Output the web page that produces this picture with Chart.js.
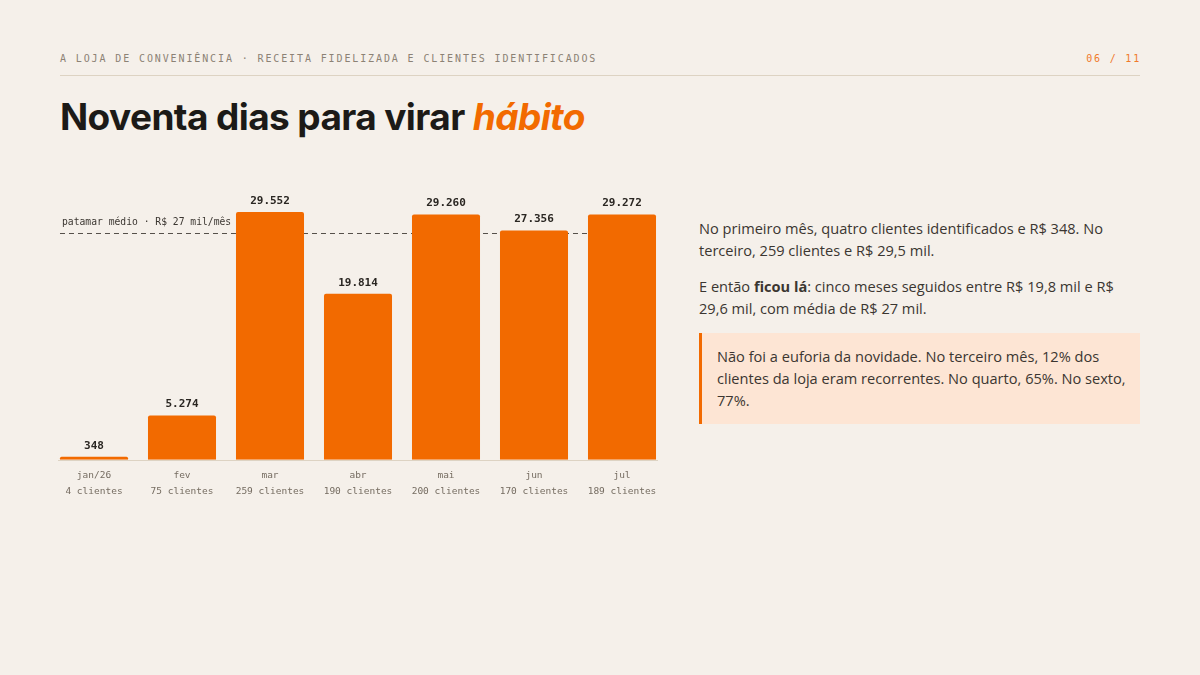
<!DOCTYPE html>
<html lang="pt-BR">
<head>
<meta charset="utf-8">
<script src="https://cdn.jsdelivr.net/npm/chart.js@4.4.1/dist/chart.umd.min.js"></script>
<style>
  html, body { margin: 0; padding: 0; }
  body { width: 1200px; height: 675px; background: #f5f0ea; position: relative; overflow: hidden; font-family: "Open Sans", sans-serif; }
  .kicker { position: absolute; left: 60px; top: 53px; font-family: "DejaVu Sans Mono", monospace; font-size: 10px; letter-spacing: 1.88px; color: #8c8275; }
  .page { position: absolute; right: 59px; top: 53px; font-family: "DejaVu Sans Mono", monospace; font-size: 10px; letter-spacing: 1.8px; color: #f07a2a; }
  .rule { position: absolute; left: 60px; right: 60px; top: 75px; height: 1px; background: #ddd3c3; }
  h1 { position: absolute; left: 60px; top: 94px; margin: 0; font-family: "Inter", sans-serif; font-weight: 700; font-size: 37px; letter-spacing: -0.6px; color: #1c1a17; }
  h1 em { color: #f26a00; font-style: italic; }
  #wrap { position: absolute; left: 50px; top: 159px; width: 616px; height: 349px; }
  .side { position: absolute; left: 699px; top: 217px; width: 441px; font-size: 14.6px; line-height: 22px; color: #3b3631; }
  .side p { margin: 0 0 14px 0; }
  .note { background: #fde5d4; border-left: 3px solid #f26a00; padding: 12px 12px 13px 15px; margin-top: 14px; color: #3b3631; }
</style>
</head>
<body>
<div class="kicker">A LOJA DE CONVENIÊNCIA · RECEITA FIDELIZADA E CLIENTES IDENTIFICADOS</div>
<div class="page">06 / 11</div>
<div class="rule"></div>
<h1>Noventa dias para virar <em>hábito</em></h1>
<div id="wrap"><canvas id="revChart"></canvas></div>
<div class="side">
  <p>No primeiro mês, quatro clientes identificados e R$ 348. No terceiro, 259 clientes e R$ 29,5 mil.</p>
  <p>E então <b>ficou lá</b>: cinco meses seguidos entre R$ 19,8 mil e R$ 29,6 mil, com média de R$ 27 mil.</p>
  <div class="note">Não foi a euforia da novidade. No terceiro mês, 12% dos clientes da loja eram recorrentes. No quarto, 65%. No sexto, 77%.</div>
</div>
<script>
const months = ["jan/26", "fev", "mar", "abr", "mai", "jun", "jul"];
const clients = [4, 75, 259, 190, 200, 170, 189];
const revenue = [348, 5274, 29552, 19814, 29260, 27356, 29272];
const avgLevel = 27000;
const avgLabel = "patamar médio · R$ 27 mil/mês";

const mono = "'DejaVu Sans Mono', monospace";

function fmt(v) {
  return v.toLocaleString("pt-BR");
}

// span from the left edge of the first bar to the right edge of the last one
function barSpan(chart) {
  const bars = chart.getDatasetMeta(0).data;
  const first = bars[0], last = bars[bars.length - 1];
  return [first.x - first.width / 2, last.x + last.width / 2];
}

const avgLine = {
  id: "avgLine",
  beforeDatasetsDraw(chart) {
    const { ctx, chartArea, scales } = chart;
    const [x0, x1] = barSpan(chart);
    const y = Math.round(scales.y.getPixelForValue(avgLevel)) + 0.5;
    const base = Math.round(chartArea.bottom) + 0.5;
    ctx.save();
    ctx.strokeStyle = "#ddd3c3";
    ctx.lineWidth = 1;
    ctx.beginPath();
    ctx.moveTo(x0 - 2, base);
    ctx.lineTo(x1 + 2, base);
    ctx.stroke();
    ctx.strokeStyle = "#55504a";
    ctx.setLineDash([5, 4]);
    ctx.beginPath();
    ctx.moveTo(x0, y);
    ctx.lineTo(x1, y);
    ctx.stroke();
    ctx.setLineDash([]);
    ctx.fillStyle = "#3b3631";
    ctx.font = "9.7px " + mono;
    ctx.textBaseline = "alphabetic";
    ctx.fillText(avgLabel, x0 + 2, y - 9);
    ctx.restore();
  }
};

const valueLabels = {
  id: "valueLabels",
  afterDatasetsDraw(chart) {
    const { ctx } = chart;
    const meta = chart.getDatasetMeta(0);
    ctx.save();
    ctx.fillStyle = "#2a2622";
    ctx.font = "bold 11px " + mono;
    ctx.textAlign = "center";
    ctx.textBaseline = "alphabetic";
    meta.data.forEach((bar, i) => {
      ctx.fillText(fmt(revenue[i]), bar.x, bar.y - 8);
    });
    ctx.restore();
  }
};

new Chart(document.getElementById("revChart"), {
  type: "bar",
  data: {
    labels: months.map((m, i) => [m, clients[i] + " clientes"]),
    datasets: [{
      label: "Receita",
      data: revenue,
      backgroundColor: "#f26a00",
      borderRadius: 2,
      borderSkipped: "bottom",
      barPercentage: 0.773,
      categoryPercentage: 1,
      minBarLength: 3
    }]
  },
  options: {
    responsive: true,
    maintainAspectRatio: false,
    animation: false,
    layout: { padding: { top: 30, left: 0, right: 0, bottom: 0 } },
    plugins: { legend: { display: false }, tooltip: { enabled: false } },
    scales: {
      x: {
        grid: { display: false, drawTicks: false },
        border: { display: false },
        ticks: { color: "#756c61", font: { family: mono, size: 9.5, lineHeight: 1.7 }, padding: 8 }
      },
      y: {
        display: false,
        min: 0,
        max: 32300
      }
    }
  },
  plugins: [avgLine, valueLabels]
});
</script>
</body>
</html>
